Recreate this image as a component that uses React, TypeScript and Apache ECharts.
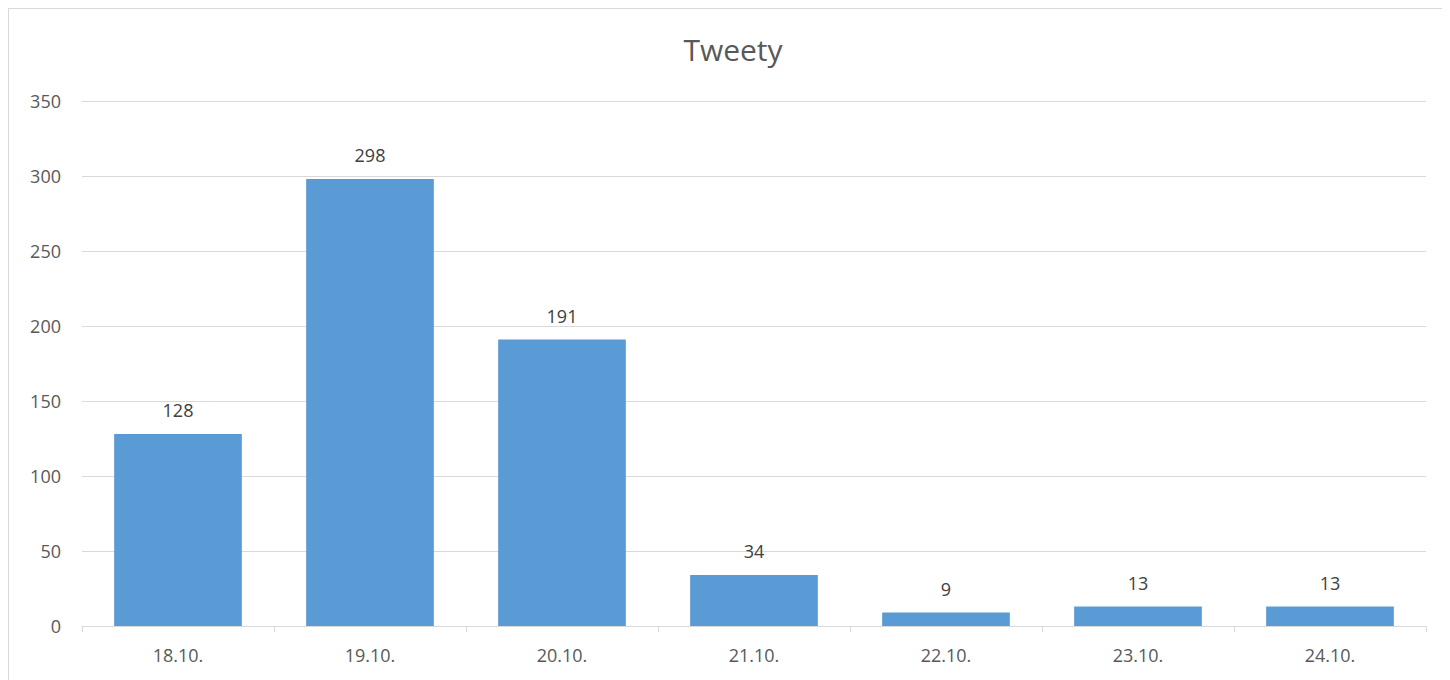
import React, { useEffect, useRef } from "react";
import * as echarts from "echarts";

const categories = ["18.10.", "19.10.", "20.10.", "21.10.", "22.10.", "23.10.", "24.10."];
const tweets = [128, 298, 191, 34, 9, 13, 13];
const yTicks = { min: 0, max: 350, interval: 50 };

export default function App() {
  const ref = useRef<HTMLDivElement>(null);
  useEffect(() => {
    if (!ref.current) return;
    const chart = echarts.init(ref.current, null, { renderer: "svg" });
    const font = "'Open Sans', 'Noto Sans', sans-serif";
    chart.setOption({
      animation: false,
      backgroundColor: "#ffffff",
      title: {
        text: "Tweety",
        left: "center",
        top: 20,
        textStyle: { color: "#595959", fontSize: 30, fontWeight: "normal", fontFamily: font },
      },
      grid: { left: 73, right: 31, top: 92, bottom: 61, containLabel: false },
      xAxis: {
        type: "category",
        data: categories,
        axisLine: { lineStyle: { color: "#d9d9d9", width: 1 } },
        axisTick: { show: true, length: 6, lineStyle: { color: "#d9d9d9" } },
        axisLabel: { color: "#595959", fontSize: 18, fontFamily: font, margin: 20 },
      },
      yAxis: {
        type: "value",
        min: yTicks.min,
        max: yTicks.max,
        interval: yTicks.interval,
        axisLine: { show: false },
        axisTick: { show: false },
        splitLine: { lineStyle: { color: "#d9d9d9", width: 1 } },
        axisLabel: { color: "#595959", fontSize: 18, fontFamily: font, margin: 21 },
      },
      series: [
        {
          type: "bar",
          data: tweets,
          barWidth: "66.5%",
          itemStyle: { color: "#5b9bd5" },
          label: {
            show: true,
            position: "top",
            distance: 15,
            color: "#404040",
            fontSize: 18,
            fontFamily: font,
          },
        },
      ],
    });
    return () => chart.dispose();
  }, []);
  return (
    <div
      ref={ref}
      style={{ width: 1450, height: 680, border: "1px solid #d9d9d9", boxSizing: "border-box" }}
    />
  );
}
